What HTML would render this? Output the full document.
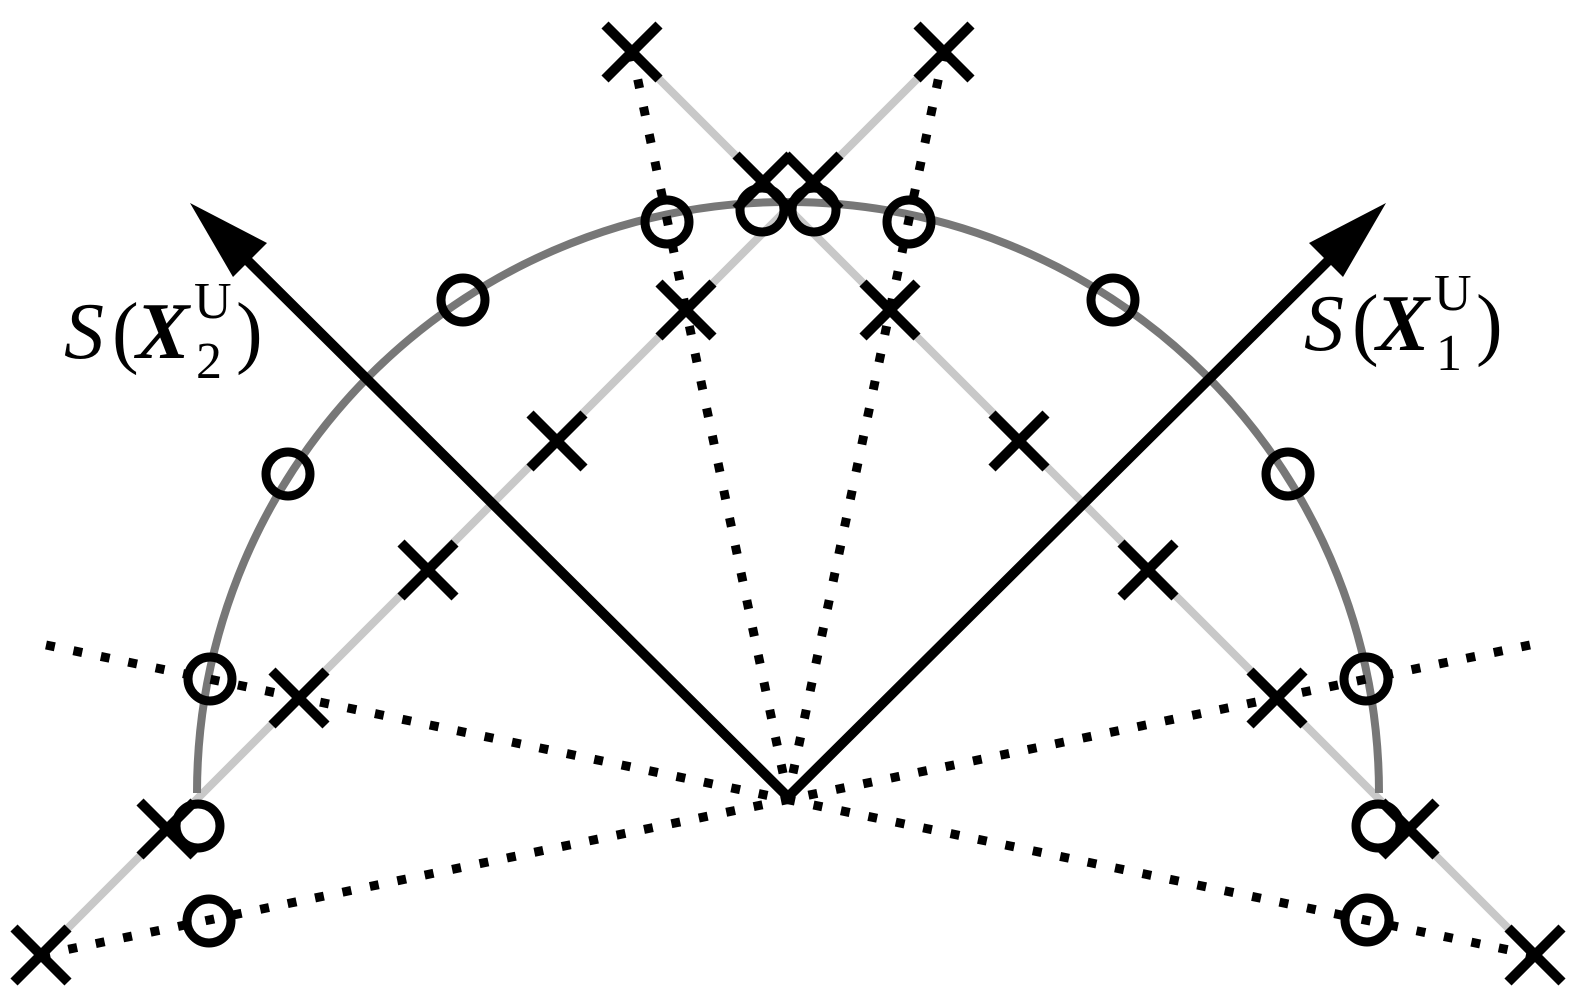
<!DOCTYPE html>
<html><head><meta charset="utf-8"><style>html,body{margin:0;padding:0;background:#fff;}svg{display:block}</style></head>
<body>
<svg width="1587" height="1002" viewBox="0 0 1587 1002" xmlns="http://www.w3.org/2000/svg">
<g stroke="#c8c8c8" stroke-width="8" fill="none">
<line x1="41" y1="955" x2="944" y2="52"/>
<line x1="1535" y1="955" x2="632" y2="52"/>
</g>
<path d="M197,793 A591,591 0 0 1 1379,793" stroke="#777" stroke-width="8" fill="none"/>
<g stroke="#000" stroke-width="9" stroke-dasharray="9 19" fill="none">
<line x1="46" y1="645" x2="1533" y2="955"/>
<line x1="1530" y1="645" x2="41" y2="955"/>
<line x1="632" y1="52" x2="788" y2="797"/>
<line x1="944" y1="52" x2="788" y2="797"/>
</g>
<g stroke="#000" stroke-width="10" fill="none">
<polyline points="245,258 788,797 1331,258"/>
</g>
<polygon points="190,203 267,243 233,277" fill="#000"/>
<polygon points="1386,203 1309,243 1343,277" fill="#000"/>
<g stroke="#000" stroke-width="9" fill="none">
<circle cx="210" cy="679" r="22"/>
<circle cx="288" cy="474" r="22"/>
<circle cx="463" cy="300" r="22"/>
<circle cx="667" cy="222" r="22"/>
<circle cx="762" cy="210" r="22"/>
<circle cx="814" cy="210" r="22"/>
<circle cx="909" cy="222" r="22"/>
<circle cx="1113" cy="300" r="22"/>
<circle cx="1288" cy="474" r="22"/>
<circle cx="1366" cy="679" r="22"/>
<circle cx="198" cy="826" r="22"/>
<circle cx="1378" cy="826" r="22"/>
<circle cx="209" cy="921" r="22"/>
<circle cx="1367" cy="920" r="22"/>
</g>
<g stroke="#000" stroke-width="10" fill="none">
<path d="M14,928 l54,54 M14,982 l54,-54"/>
<path d="M140,802 l54,54 M140,856 l54,-54"/>
<path d="M272,671 l54,54 M272,725 l54,-54"/>
<path d="M401,543 l54,54 M401,597 l54,-54"/>
<path d="M530,414 l54,54 M530,468 l54,-54"/>
<path d="M659,283 l54,54 M659,337 l54,-54"/>
<path d="M736,155 l54,54 M736,209 l54,-54"/>
<path d="M917,25 l54,54 M917,79 l54,-54"/>
<path d="M1508,928 l54,54 M1508,982 l54,-54"/>
<path d="M1382,802 l54,54 M1382,856 l54,-54"/>
<path d="M1250,671 l54,54 M1250,725 l54,-54"/>
<path d="M1121,543 l54,54 M1121,597 l54,-54"/>
<path d="M992,414 l54,54 M992,468 l54,-54"/>
<path d="M863,283 l54,54 M863,337 l54,-54"/>
<path d="M786,155 l54,54 M786,209 l54,-54"/>
<path d="M605,25 l54,54 M605,79 l54,-54"/>
</g>
<g font-family="'Liberation Serif', serif" fill="#000">
<text x="64" y="358" font-size="80" font-style="italic">S</text>
<text x="112" y="358" font-size="80">(</text>
<text x="136" y="358" font-size="80" font-style="italic" font-weight="bold">X</text>
<text x="194" y="318" font-size="52">U</text>
<text x="196" y="378" font-size="52">2</text>
<text x="236" y="358" font-size="80">)</text>
<text x="1304" y="350" font-size="80" font-style="italic">S</text>
<text x="1352" y="350" font-size="80">(</text>
<text x="1376" y="350" font-size="80" font-style="italic" font-weight="bold">X</text>
<text x="1434" y="310" font-size="52">U</text>
<text x="1436" y="370" font-size="52">1</text>
<text x="1476" y="350" font-size="80">)</text>
</g>
</svg>
</body></html>
